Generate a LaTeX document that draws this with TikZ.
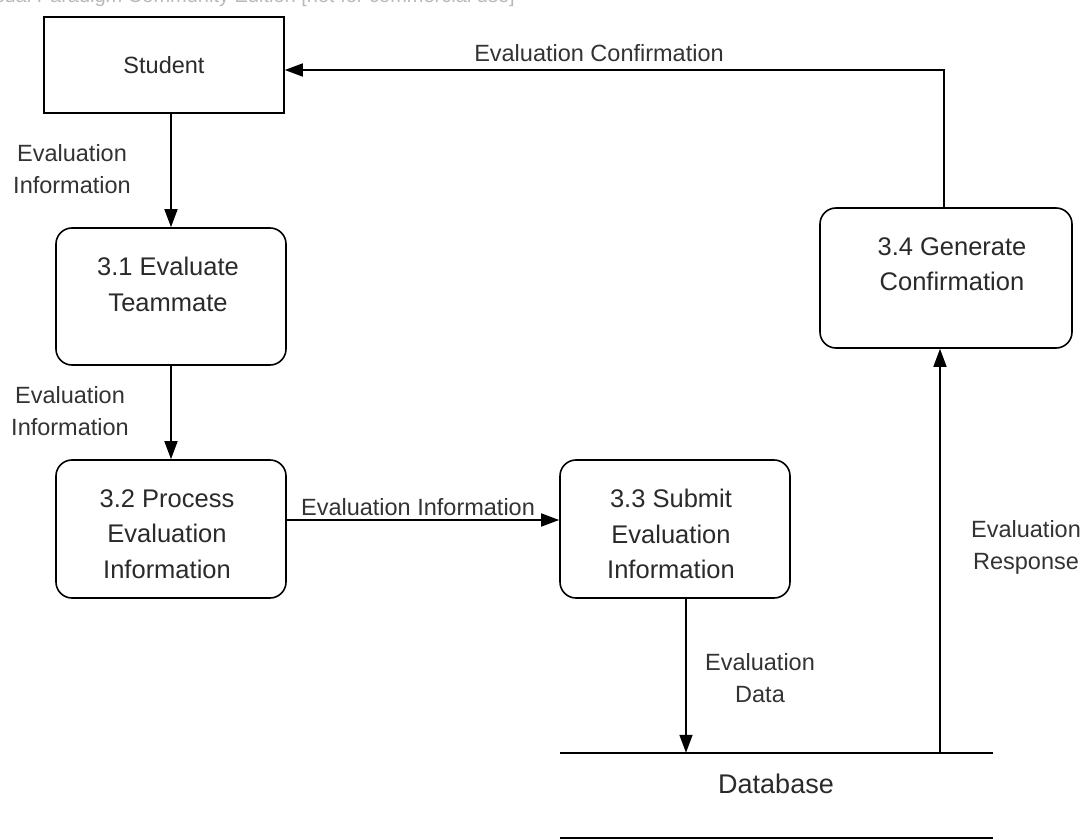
\documentclass[tikz,border=0pt]{standalone}
\usepackage{fontspec}
\setmainfont{Liberation Sans}
\usetikzlibrary{arrows.meta,calc}
\definecolor{txt}{HTML}{2A2A2A}
\definecolor{lbltxt}{HTML}{333333}
\tikzset{
  x=1pt, y=-1pt,
  ent/.style={draw, line width=1.6pt, minimum width=240pt, minimum height=96pt, inner sep=0pt},
  proc/.style={draw, line width=1.6pt, rounded corners=16pt, inner sep=0pt},
  ptext/.style={anchor=north, inner sep=0pt, align=center, text=txt,
    font=\fontsize{25.5}{35.5}\selectfont},
  lbl/.style={inner sep=0pt, align=center, text=lbltxt, font=\fontsize{23.5}{32}\selectfont},
  flow/.style={line width=1.6pt, -{Triangle[length=18pt,width=13pt]}},
  storeline/.style={line width=1.6pt},
}
\begin{document}
\begin{tikzpicture}
\useasboundingbox (0,0) rectangle (1088,840);
\fill[white] (0,0) rectangle (1088,840);
% watermark (cut off at the top edge, as in the reference)
\node[anchor=base east, inner sep=0pt, text=gray!55, font=\fontsize{20}{22}\selectfont] (wm) at (515,3) {Visual Paradigm Community Edition [not for commercial use]};

% entities and processes
\node[ent, text=txt, font=\fontsize{23.5}{28}\selectfont] (student) at (164,65) {Student};
\node[proc, minimum width=230pt, minimum height=137pt] (p31) at (171,296.5) {};
\node[ptext] (t31) at ($(p31.north)+(-3,30)$) {3.1 Evaluate\\Teammate};
\node[proc, minimum width=230pt, minimum height=138pt] (p32) at (171,529) {};
\node[ptext] (t32) at ($(p32.north)+(-4,30)$) {3.2 Process\\Evaluation\\Information};
\node[proc, minimum width=230pt, minimum height=138pt] (p33) at (675,529) {};
\node[ptext] (t33) at ($(p33.north)+(-4,30)$) {3.3 Submit\\Evaluation\\Information};
\node[proc, minimum width=252pt, minimum height=140pt] (p34) at (946,278) {};
\node[ptext] (t34) at ($(p34.north)+(6,30)$) {3.4 Generate\\Confirmation};

% data store
\node[minimum width=433pt, minimum height=85pt, inner sep=0pt] (db) at (776.5,795.5) {};
\draw[storeline] (db.north west) -- (db.north east);
\draw[storeline] (db.south west) -- (db.south east);
\node[inner sep=0pt, text=txt, font=\fontsize{27}{30}\selectfont] (dbt) at (776,784) {Database};

% flows
\draw[flow] (student.south -| p31.north) -- (p31.north);
\node[lbl] (l1) at (72,169) {Evaluation\\Information};

\draw[flow] (p31.south) -- (p32.north);
\node[lbl] (l2) at (70,411) {Evaluation\\Information};

\coordinate (c32) at ($(p32.east)+(0,-9)$);
\draw[flow] (c32) -- (c32 -| p33.west);
\node[lbl, anchor=base] (l3) at (418,515) {Evaluation Information};

\coordinate (c33) at ($(p33.south)+(11,0)$);
\draw[flow] (c33) -- (c33 |- db.north);
\node[lbl] (l4) at (760,678) {Evaluation\\Data};

\coordinate (cdb) at ($(p34.south)+(-6,0)$);
\draw[flow] (cdb |- db.north) -- (cdb);
\node[lbl] (l5) at (1026,547) {Evaluation\\Response};

\coordinate (c34) at ($(p34.north)+(-2,0)$);
\coordinate (bend) at (c34 |- 0,70);
\draw[flow] (c34) -- (bend) -- (bend -| student.east);
\node[lbl, anchor=base] (l6) at (599,62) {Evaluation Confirmation};
\end{tikzpicture}
\end{document}
